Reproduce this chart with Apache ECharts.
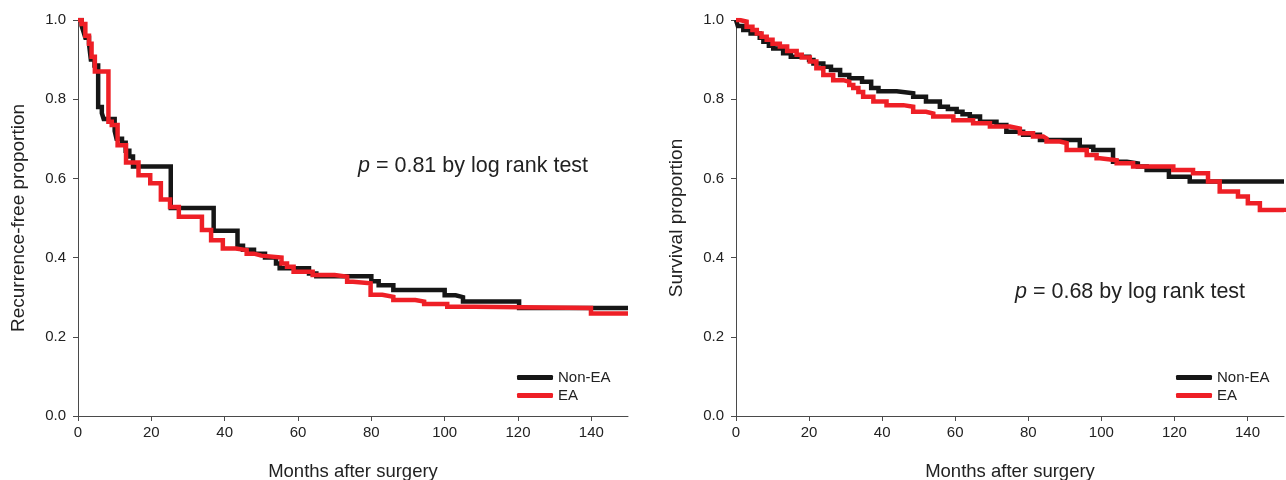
<!DOCTYPE html>
<html>
<head>
<meta charset="utf-8">
<script src="https://cdn.jsdelivr.net/npm/echarts@6/dist/echarts.min.js"></script>
<style>
  html, body { margin: 0; padding: 0; background: #fff; }
  #main { width: 1286px; height: 480px; }
</style>
</head>
<body>
<div id="main"></div>
<script type="text/javascript">
    // left panel: recurrence-free, event times (months) and proportion after each step
    var rfsNonEaT = [0, 1, 1.5, 2, 3, 3.5, 4.5, 5.5, 6.5, 7, 10, 10.5, 12, 13, 14, 15, 25.3, 37, 43.5, 45, 48, 51, 54, 55, 63, 65, 80, 82, 86, 100, 103, 105, 120.3, 150];
    var rfsNonEaS = [1, 0.985, 0.97, 0.955, 0.94, 0.9, 0.885, 0.78, 0.765, 0.75, 0.72, 0.7, 0.69, 0.67, 0.655, 0.63, 0.525, 0.468, 0.43, 0.42, 0.41, 0.4, 0.385, 0.373, 0.36, 0.353, 0.34, 0.33, 0.318, 0.305, 0.3, 0.289, 0.273, 0.273];
    var rfsEaT = [0, 1, 2, 3, 3.7, 4.6, 8.3, 9.2, 10.8, 13.1, 16.5, 19.7, 22.6, 25.1, 27.5, 33.8, 36.3, 39.5, 43, 46, 48, 50, 55.5, 57, 58.8, 64, 70, 73.4, 75, 79.8, 83, 86, 92, 94.4, 100.7, 108, 139.9, 150];
    var rfsEaS = [1, 0.99, 0.96, 0.94, 0.907, 0.87, 0.743, 0.735, 0.684, 0.64, 0.608, 0.588, 0.547, 0.528, 0.503, 0.47, 0.444, 0.423, 0.419, 0.41, 0.405, 0.4, 0.385, 0.377, 0.364, 0.356, 0.352, 0.339, 0.335, 0.306, 0.301, 0.293, 0.289, 0.283, 0.276, 0.273, 0.259, 0.259];

    // right panel: overall survival
    var osNonEaT = [0, 0.5, 2, 4, 6.5, 7.5, 9, 10.2, 12.9, 15, 20, 21.2, 23.9, 26, 28.5, 31, 34.5, 37, 39, 44, 48.5, 52, 55.8, 58, 60.4, 62, 64, 66.8, 71.3, 74, 78.6, 83.2, 94.1, 97.8, 103.2, 107, 110, 112.4, 118.5, 124.2, 150];
    var osNonEaS = [1, 0.985, 0.975, 0.966, 0.955, 0.945, 0.935, 0.928, 0.916, 0.907, 0.899, 0.89, 0.882, 0.874, 0.861, 0.853, 0.844, 0.828, 0.82, 0.815, 0.806, 0.794, 0.781, 0.775, 0.768, 0.762, 0.756, 0.743, 0.735, 0.718, 0.71, 0.697, 0.68, 0.672, 0.642, 0.638, 0.63, 0.621, 0.604, 0.592, 0.592];
    var osEaT = [0, 1, 2.9, 4.5, 5.7, 7, 8.4, 10, 12, 14, 16.6, 18, 20.2, 22, 23.9, 26.6, 29.4, 31, 32.1, 33.5, 34.8, 37.6, 41.2, 45.8, 48.5, 52, 54, 59.5, 64.9, 69.5, 75, 77.7, 81.3, 84.1, 85, 88.6, 90.5, 96, 98.7, 99.6, 104.2, 108.7, 119.7, 125.1, 129.2, 132.4, 137.4, 140.1, 143.4, 150];
    var osEaS = [1, 0.996, 0.983, 0.975, 0.966, 0.958, 0.95, 0.94, 0.933, 0.922, 0.912, 0.905, 0.895, 0.878, 0.861, 0.848, 0.844, 0.836, 0.828, 0.818, 0.806, 0.794, 0.785, 0.781, 0.768, 0.764, 0.756, 0.747, 0.739, 0.731, 0.726, 0.714, 0.706, 0.701, 0.693, 0.689, 0.672, 0.659, 0.651, 0.646, 0.638, 0.63, 0.621, 0.613, 0.592, 0.567, 0.554, 0.537, 0.52, 0.515];

    var xTicks = [0, 20, 40, 60, 80, 100, 120, 140];
    var groups = ['Non-EA', 'EA'];
    var colors = ['#161616', '#ee1f26'];

    function pairs(t, s) {
        var out = [];
        for (var i = 0; i < t.length; i++) out.push([t[i], s[i]]);
        return out;
    }

    var font = '"Liberation Sans", Arial, sans-serif';
    var axisColor = '#4a4a4a';

    function xAxisFor(idx) {
        return {
            type: 'value', gridIndex: idx, min: 0, max: 150,
            name: 'Months after surgery', nameLocation: 'middle', nameGap: 46,
            nameTextStyle: { fontFamily: font, fontSize: 18.5, color: '#222' },
            axisLine: { lineStyle: { color: axisColor, width: 1 } },
            axisTick: { customValues: xTicks, length: 5, lineStyle: { color: axisColor } },
            axisLabel: { customValues: xTicks, fontFamily: font, fontSize: 15, color: '#222', margin: 9 },
            splitLine: { show: false }
        };
    }
    function yAxisFor(idx, title) {
        return {
            type: 'value', gridIndex: idx, min: 0, max: 1, interval: 0.2,
            name: title, nameLocation: 'middle', nameGap: 50, nameRotate: 90,
            nameTextStyle: { fontFamily: font, fontSize: 19, color: '#222' },
            axisLine: { show: true, lineStyle: { color: axisColor, width: 1 } },
            axisTick: { show: true, length: 5, lineStyle: { color: axisColor } },
            axisLabel: {
                fontFamily: font, fontSize: 15, color: '#222', margin: 12,
                formatter: function (v) { return v.toFixed(1); }
            },
            splitLine: { show: false }
        };
    }
    function curve(name, idx, t, s, color) {
        return {
            name: name, type: 'line', xAxisIndex: idx, yAxisIndex: idx,
            step: 'end', showSymbol: false, symbol: 'none', silent: true,
            lineStyle: { color: color, width: 4.5, join: 'miter' },
            itemStyle: { color: color },
            data: pairs(t, s)
        };
    }
    function legendFor(left, top) {
        return {
            orient: 'vertical', left: left, top: top, itemGap: 3,
            itemWidth: 36, itemHeight: 5, icon: 'roundRect',
            textStyle: { fontFamily: font, fontSize: 15, color: '#222' },
            data: groups
        };
    }

    var myChart = echarts.init(document.getElementById('main'), null, { renderer: 'canvas' });
    myChart.setOption({
        animation: false,
        grid: [
            { left: 78, right: 658, top: 20, bottom: 64, containLabel: false, outerBoundsMode: 'none' },
            { left: 736, right: 2, top: 20, bottom: 64, containLabel: false, outerBoundsMode: 'none' }
        ],
        xAxis: [xAxisFor(0), xAxisFor(1)],
        yAxis: [yAxisFor(0, 'Recurrence-free proportion'), yAxisFor(1, 'Survival proportion')],
        legend: [legendFor(512, 365), legendFor(1171, 365)],
        graphic: [
            {
                type: 'text', left: 358, top: 155,
                style: {
                    text: '{i|p} = 0.81 by log rank test',
                    font: '21.5px ' + font, fill: '#222',
                    rich: { i: { fontStyle: 'italic', fontSize: 21.5, fontFamily: font } }
                }
            },
            {
                type: 'text', left: 1015, top: 281,
                style: {
                    text: '{i|p} = 0.68 by log rank test',
                    font: '21.5px ' + font, fill: '#222',
                    rich: { i: { fontStyle: 'italic', fontSize: 21.5, fontFamily: font } }
                }
            }
        ],
        series: [
            curve('Non-EA', 0, rfsNonEaT, rfsNonEaS, colors[0]),
            curve('EA', 0, rfsEaT, rfsEaS, colors[1]),
            curve('Non-EA', 1, osNonEaT, osNonEaS, colors[0]),
            curve('EA', 1, osEaT, osEaS, colors[1])
        ]
    });
</script>
</body>
</html>
